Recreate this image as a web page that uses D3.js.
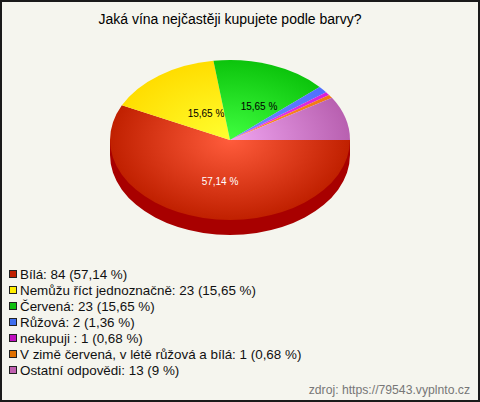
<!DOCTYPE html>
<html>
<head>
<meta charset="utf-8">
<script src="https://cdn.jsdelivr.net/npm/d3@7/dist/d3.min.js"></script>
<style>
html,body{margin:0;padding:0;background:#f5f5ee}
svg{display:block}
text{font-family:"Liberation Sans",Arial,sans-serif}
</style>
</head>
<body>
<svg id="c" width="480" height="402"></svg>
<script>
const titleText = "Jaká vína nejčastěji kupujete podle barvy?";
const sourceText = "zdroj: https://79543.vyplnto.cz";
const categories = ["Bílá","Nemůžu říct jednoznačně","Červená","Růžová","nekupuji ","V zimě červená, v létě růžová a bílá","Ostatní odpovědi"];
const values = [84,23,23,2,1,1,13];
const percentLabels = ["57,14 %","15,65 %","15,65 %","1,36 %","0,68 %","0,68 %","9 %"];
const sliceLabels = ["57,14 %","15,65 %","15,65 %","","","",""];
const innerColors = ["#ff5c3c","#ffff30","#40ff40","#6f8fff","#f040f0","#ff9030","#f0a4f0"];
const outerColors = ["#c02000","#ffdd00","#0cc40c","#4f6fff","#d820d8","#f07810","#b860b0"];
const legendColors = ["#c02000","#ffee00","#10c010","#4070f0","#c010c0","#e07000","#c060b0"];
const sideColor = "#a80000";
const labelColors = ["#fff","#000","#000"];

const svg = d3.select("#c");
const W=480,H=402,cx=230,cy=140,rx=120,ry=80,depth=15;

svg.append("rect").attr("x",1).attr("y",1).attr("width",W-2).attr("height",H-2)
  .attr("fill","#f5f5ee").attr("stroke","#1a1a1a").attr("stroke-width",2);

svg.append("text").attr("x",cx).attr("y",24).attr("text-anchor","middle")
  .attr("font-size",14).attr("fill","#000").text(titleText);

const defs = svg.append("defs");
categories.forEach((c,i)=>{
  const g=defs.append("radialGradient").attr("id","g"+i).attr("gradientUnits","userSpaceOnUse")
    .attr("cx",0).attr("cy",0).attr("r",1);
  g.append("stop").attr("offset",0).attr("stop-color",innerColors[i]);
  g.append("stop").attr("offset",1).attr("stop-color",outerColors[i]);
});

const pie = d3.pie().sort(null).startAngle(Math.PI/2).endAngle(Math.PI/2+2*Math.PI);
const arcs = pie(values);
const arc = d3.arc().innerRadius(0).outerRadius(1);
const sx = d3.scaleLinear().domain([-1,1]).range([cx-rx,cx+rx]);

// extruded side
svg.append("g").attr("transform",`translate(${cx},${cy+depth}) scale(${rx},${ry})`)
  .append("path").attr("d",arc(arcs[0])).attr("fill",sideColor);
svg.append("rect").attr("x",sx(-1)).attr("y",cy).attr("width",rx*2).attr("height",depth).attr("fill",sideColor);

// top face
const face = svg.append("g").attr("transform",`translate(${cx},${cy}) scale(${rx},${ry})`);
face.selectAll("path").data(arcs).join("path")
  .attr("d",arc).attr("fill",(d,i)=>`url(#g${i})`);

// slice labels
const labelPos = [[-10,41],[-24,-27],[29,-34]];
svg.selectAll("text.sl").data(sliceLabels.filter(s=>s)).join("text").attr("class","sl")
  .attr("x",(d,i)=>cx+labelPos[i][0]).attr("y",(d,i)=>cy+labelPos[i][1]+4)
  .attr("text-anchor","middle").attr("font-size",10)
  .attr("fill",(d,i)=>labelColors[i]).text(d=>d);

// legend
const ly = d3.scalePoint().domain(categories).range([274,370]);
const leg = svg.selectAll("g.l").data(categories).join("g").attr("class","l")
  .attr("transform",d=>`translate(0,${ly(d)})`);
leg.append("rect").attr("x",9.5).attr("y",-3.5).attr("width",7).attr("height",7)
  .attr("fill",(d,i)=>legendColors[i]).attr("stroke","#222").attr("stroke-width",1);
leg.append("text").attr("x",20).attr("y",5).attr("font-size",13.4).attr("fill","#111")
  .text((d,i)=>`${d}: ${values[i]} (${percentLabels[i]})`);

svg.append("text").attr("x",470).attr("y",394).attr("text-anchor","end")
  .attr("font-size",12.2).attr("fill","#777").text(sourceText);
</script>
</body>
</html>
